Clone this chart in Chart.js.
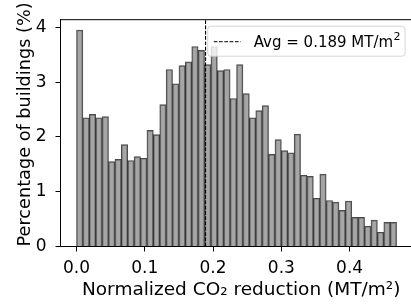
<!DOCTYPE html>
<html>
<head>
<meta charset="utf-8">
<script src="https://cdn.jsdelivr.net/npm/chart.js@4.4.1/dist/chart.umd.min.js"></script>
<style>
  html, body { margin: 0; padding: 0; background: #fff; overflow: hidden; }
  canvas { display: block; }
</style>
</head>
<body>
<canvas id="c" width="414" height="306"></canvas>
<script>
// ---- data ----
const binStart = 0.0;
const binWidth = 0.009376;
const binPercents = [
  3.95, 2.35, 2.41, 2.35, 2.37, 1.55, 1.59, 1.86, 1.57, 1.64,
  1.61, 2.12, 2.04, 2.59, 3.23, 2.97, 3.30, 3.37, 3.65, 3.58,
  3.32, 3.65, 3.21, 3.23, 2.70, 3.32, 2.79, 2.35, 2.48, 2.57,
  1.68, 1.95, 1.75, 1.71, 2.05, 1.30, 1.28, 0.88, 1.32, 0.84,
  0.81, 0.66, 0.83, 0.53, 0.53, 0.37, 0.48, 0.26, 0.44, 0.44
];
const avgValue = 0.189;
const xTicks = [0.0, 0.1, 0.2, 0.3, 0.4];
const yTicks = [0, 1, 2, 3, 4];
const xLabel = 'Normalized CO\u2082 reduction (MT/m\u00B2)';
const yLabel = 'Percentage of buildings (%)';
const legendMain = 'Avg = ' + avgValue.toFixed(3) + ' MT/m';
const legendSup = '2';

// derived
const barData = binPercents.map((v, i) => ({ x: binStart + (i + 0.5) * binWidth, y: v }));
const dataMax = binStart + binPercents.length * binWidth;
const xMargin = 0.05 * (dataMax - binStart);
const yMax = Math.max(...binPercents) * 1.05;

const FONT = 'DejaVu Sans';

const framePlugin = {
  id: 'frame',
  afterDraw(chart) {
    const { ctx, chartArea: a } = chart;
    ctx.save();
    ctx.strokeStyle = '#000';
    ctx.lineWidth = 1;
    ctx.beginPath();
    ctx.moveTo(a.left, a.top + 0.5);
    ctx.lineTo(a.right, a.top + 0.5);
    ctx.moveTo(a.right - 0.5, a.top);
    ctx.lineTo(a.right - 0.5, a.bottom);
    ctx.stroke();

    // legend box (inside, upper right)
    const fs = 15;
    ctx.font = fs + 'px "' + FONT + '"';
    const wMain = ctx.measureText(legendMain).width;
    ctx.font = Math.round(fs * 0.7) + 'px "' + FONT + '"';
    const wSup = ctx.measureText(legendSup).width;
    const padL = 6, lineLen = 27, gap = 13, padR = 5;
    const boxW = padL + lineLen + gap + wMain + wSup + padR;
    const boxH = 30;
    const bx = a.right - 7.5 - boxW;
    const by = a.top + 7;
    const r = 3;
    ctx.beginPath();
    ctx.moveTo(bx + r, by);
    ctx.lineTo(bx + boxW - r, by);
    ctx.arcTo(bx + boxW, by, bx + boxW, by + r, r);
    ctx.lineTo(bx + boxW, by + boxH - r);
    ctx.arcTo(bx + boxW, by + boxH, bx + boxW - r, by + boxH, r);
    ctx.lineTo(bx + r, by + boxH);
    ctx.arcTo(bx, by + boxH, bx, by + boxH - r, r);
    ctx.lineTo(bx, by + r);
    ctx.arcTo(bx, by, bx + r, by, r);
    ctx.closePath();
    ctx.fillStyle = 'rgba(255,255,255,0.8)';
    ctx.fill();
    ctx.strokeStyle = 'rgba(204,204,204,0.8)';
    ctx.lineWidth = 1;
    ctx.stroke();

    const ly = by + 15.5;
    ctx.beginPath();
    ctx.setLineDash([3.7, 1.6]);
    ctx.strokeStyle = '#000';
    ctx.lineWidth = 1;
    ctx.moveTo(bx + padL, ly);
    ctx.lineTo(bx + padL + lineLen, ly);
    ctx.stroke();
    ctx.setLineDash([]);

    ctx.fillStyle = '#000';
    ctx.textBaseline = 'alphabetic';
    ctx.textAlign = 'left';
    const tx = bx + padL + lineLen + gap;
    ctx.font = fs + 'px "' + FONT + '"';
    ctx.fillText(legendMain, tx, by + 20.5);
    ctx.font = Math.round(fs * 0.7) + 'px "' + FONT + '"';
    ctx.fillText(legendSup, tx + wMain + 0.5, by + 14);
    ctx.restore();
  }
};

new Chart(document.getElementById('c'), {
  data: {
    datasets: [
      {
        type: 'line',
        order: 0,
        data: [{ x: avgValue, y: 0 }, { x: avgValue, y: yMax }],
        borderColor: '#000',
        borderWidth: 1.1,
        borderDash: [3.7, 1.6],
        pointRadius: 0,
        fill: false
      },
      {
        type: 'bar',
        order: 1,
        data: barData,
        backgroundColor: 'rgba(128,128,128,0.7)',
        borderColor: 'rgba(0,0,0,0.7)',
        borderWidth: 1,
        barPercentage: 1,
        categoryPercentage: 1
      }
    ]
  },
  options: {
    responsive: false,
    animation: false,
    devicePixelRatio: 1,
    layout: { padding: { top: 4, right: 1.4, left: 0, bottom: 0 } },
    plugins: { legend: { display: false }, tooltip: { enabled: false } },
    scales: {
      x: {
        type: 'linear',
        offset: false,
        min: binStart - xMargin,
        max: dataMax + xMargin,
        afterBuildTicks: s => { s.ticks = xTicks.map(v => ({ value: v })); },
        afterFit: s => { s.height = 59.5; },
        ticks: {
          callback: v => Number(v).toFixed(1),
          font: { family: FONT, size: 17 },
          color: '#000',
          padding: 7,
          maxRotation: 0,
          autoSkip: false
        },
        grid: { display: true, offset: false, drawOnChartArea: false, drawTicks: true, tickLength: 5, color: '#000' },
        border: { display: true, color: '#000', width: 1 },
        title: { display: true, text: '\u2002' + xLabel, font: { family: FONT, size: 18.5 }, color: '#000', padding: { top: 0, bottom: 5 } }
      },
      y: {
        type: 'linear',
        min: 0,
        max: yMax,
        afterBuildTicks: s => { s.ticks = yTicks.map(v => ({ value: v })); },
        afterFit: s => { s.width = 60.5; },
        ticks: {
          font: { family: FONT, size: 17 },
          color: '#000',
          padding: 9
        },
        grid: { display: true, drawOnChartArea: false, drawTicks: true, tickLength: 5, color: '#000' },
        border: { display: true, color: '#000', width: 1 },
        title: { display: true, text: '   ' + yLabel, font: { family: FONT, size: 17.7 }, color: '#000', padding: { top: 14.4, bottom: 0 } }
      }
    }
  },
  plugins: [framePlugin]
});
</script>
</body>
</html>
